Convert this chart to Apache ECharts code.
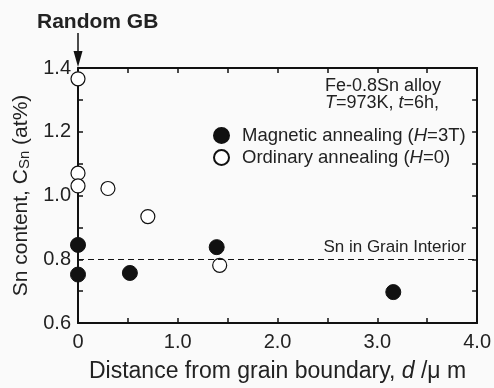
<!DOCTYPE html>
<html>
<head>
<meta charset="utf-8">
<script src="https://cdn.jsdelivr.net/npm/echarts@6/dist/echarts.min.js"></script>
<style>
  html, body { margin: 0; padding: 0; background: #fafafa; }
  #chart { width: 494px; height: 388px; }
</style>
</head>
<body>
<div id="chart"></div>
<script>
// 数据
const magneticX = [0, 0, 0.52, 1.39, 3.16]
const magneticY = [0.845, 0.752, 0.757, 0.838, 0.697]
const ordinaryX = [0, 0, 0, 0.30, 0.70, 1.42]
const ordinaryY = [1.366, 1.070, 1.030, 1.022, 0.934, 0.781]
const interiorLevel = 0.8
const seriesNames = ['Magnetic annealing', 'Ordinary annealing']

const font = 'Liberation Sans, Arial, sans-serif'
const chart = echarts.init(document.getElementById('chart'))

const zip = (xs, ys) => xs.map((x, i) => [x, ys[i]])

// 坐标轴公共样式
const axisBase = {
  type: 'value',
  axisLine: { show: true, onZero: false, lineStyle: { color: '#111', width: 2 } },
  axisTick: { show: true, inside: true, length: 5, lineStyle: { color: '#111', width: 1.5 } },
  minorTick: { show: true, splitNumber: 2, length: 5, lineStyle: { color: '#111', width: 1.5 } },
  splitLine: { show: false },
  minorSplitLine: { show: false }
}

chart.setOption({
  backgroundColor: '#fafafa',
  animation: false,
  textStyle: { fontFamily: font },
  grid: { left: 78, right: 16, top: 68, bottom: 58 },
  legend: {
    data: seriesNames,
    orient: 'vertical',
    left: 208,
    top: 121,
    itemWidth: 31,
    itemHeight: 15,
    itemGap: 3,
    textStyle: {
      fontFamily: font,
      fontSize: 18.5,
      color: '#222',
      rich: { i: { fontStyle: 'italic', fontSize: 18.5, color: '#222', fontFamily: font } }
    },
    formatter: name => name === seriesNames[0]
      ? 'Magnetic annealing ({i|H}=3T)'
      : 'Ordinary annealing ({i|H}=0)'
  },
  xAxis: [
    Object.assign({}, axisBase, {
      min: 0, max: 4, interval: 1,
      position: 'bottom',
      axisLabel: {
        color: '#222', fontSize: 20, margin: 9,
        formatter: v => v === 0 ? '0' : v.toFixed(1)
      },
      name: 'Distance from grain boundary, {i|d} /μ m',
      nameLocation: 'middle',
      nameGap: 37,
      nameTextStyle: {
        color: '#222', fontSize: 23,
        rich: { i: { fontStyle: 'italic', fontSize: 23, color: '#222' } }
      }
    }),
    Object.assign({}, axisBase, {
      min: 0, max: 4, interval: 1,
      position: 'top',
      axisLabel: { show: false }
    })
  ],
  yAxis: [
    Object.assign({}, axisBase, {
      min: 0.6, max: 1.4, interval: 0.2,
      position: 'left',
      axisLabel: {
        color: '#222', fontSize: 20, margin: 7,
        formatter: v => v.toFixed(1)
      },
      name: 'Sn content, C{s|Sn} (at%)',
      nameLocation: 'middle',
      nameRotate: 90,
      nameGap: 38,
      nameTextStyle: {
        color: '#222', fontSize: 21,
        rich: { s: { fontSize: 15, color: '#222', verticalAlign: 'bottom', padding: [8, 0, 0, 0] } }
      }
    }),
    Object.assign({}, axisBase, {
      min: 0.6, max: 1.4, interval: 0.2,
      position: 'right',
      axisLabel: { show: false }
    })
  ],
  series: [
    {
      name: seriesNames[0],
      type: 'scatter',
      symbol: 'circle',
      symbolSize: 15,
      itemStyle: { color: '#111', borderColor: '#111', borderWidth: 1, opacity: 1 },
      data: zip(magneticX, magneticY),
      z: 3
    },
    {
      name: seriesNames[1],
      type: 'scatter',
      symbol: 'circle',
      symbolSize: 14,
      itemStyle: { color: '#fff', borderColor: '#111', borderWidth: 1.2, opacity: 1 },
      data: zip(ordinaryX, ordinaryY),
      z: 2,
      markLine: {
        silent: true,
        symbol: 'none',
        lineStyle: { type: [6, 4], color: '#111', width: 1.2 },
        label: {
          position: 'insideEndTop',
          formatter: 'Sn in Grain Interior',
          color: '#222',
          fontSize: 17,
          distance: [11, 3]
        },
        data: [{ yAxis: interiorLevel }]
      }
    }
  ],
  graphic: [
    {
      type: 'text',
      left: 37, top: 12,
      style: { text: 'Random GB', font: 'bold 21px ' + font, fill: '#222' }
    },
    {
      type: 'line',
      shape: { x1: 78, y1: 33, x2: 78, y2: 58 },
      style: { stroke: '#111', lineWidth: 1.5 }
    },
    {
      type: 'polygon',
      shape: { points: [[73.5, 51], [82.5, 51], [78, 67]] },
      style: { fill: '#111' }
    },
    {
      type: 'text',
      left: 325, top: 77,
      style: { text: 'Fe-0.8Sn alloy', font: '18px ' + font, fill: '#222' }
    },
    {
      type: 'text',
      left: 325, top: 94,
      style: {
        text: '{i|T}=973K, {i|t}=6h,',
        font: '18px ' + font,
        fill: '#222',
        rich: { i: { fontStyle: 'italic', fontSize: 18, fontFamily: font, fill: '#222' } }
      }
    }
  ]
})
</script>
</body>
</html>
